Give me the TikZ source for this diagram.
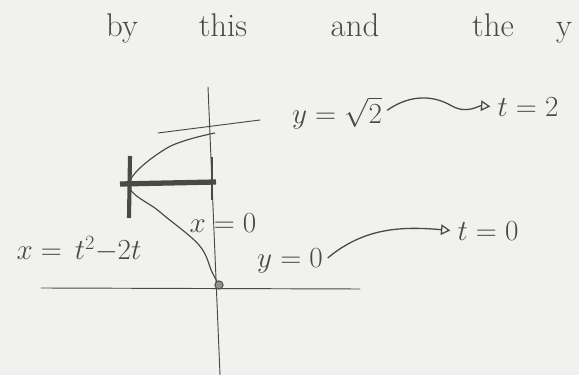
\documentclass[tikz,border=0pt]{standalone}
\usetikzlibrary{arrows.meta,decorations.pathmorphing}
\definecolor{pencil}{RGB}{72,74,72}
\definecolor{paper}{RGB}{241,241,240}
\begin{document}
\begin{tikzpicture}[x=0.03cm,y=-0.03cm]
	\tikzstyle{word}=[text=pencil,font=\fontsize{28}{32}\selectfont,anchor=base,inner sep=0pt]
	\tikzstyle{note}=[text=pencil,font=\fontsize{24}{28}\selectfont,inner sep=1pt]
	\tikzstyle{axis}=[draw=pencil,line width=0.8pt,line cap=round]
	\tikzstyle{leads}=[draw=pencil,line width=1.1pt,-{Triangle[open,length=8pt,width=9pt]},shorten <=4pt,shorten >=5pt]
	\fill[paper] (0,0) rectangle (579,375);
	\useasboundingbox (0,0) rectangle (579,375);
	\begin{scope}
		% heading line
		\node [word] (w1) at (122,37) {by};
		\node [word] (w2) at (223,37) {this};
		\node [word] (w3) at (355,37) {and};
		\node [word] (w4) at (493,37) {the};
		\node [word] (w5) at (564,37) {y};
		% axes
		\coordinate (o) at (219,285);
		\path[axis] (41,288) -- (360,289);
		\path[axis] (208,87) -- (220,375);
		\path[axis] (158,133) -- (260,120);
		% the curve and the strip
		\draw[pencil,line width=1pt] plot[smooth,tension=0.6] coordinates {(o) (212,272) (199,245) (160,212) (129,184) (167,148) (215,133)};
		\draw[pencil,line width=4.5pt] (120,184) -- (216,182);
		\draw[pencil,line width=3.5pt] (130,156) -- (129,218);
		\draw[pencil,line width=2pt] (212,157) -- (212,200);
		\draw[pencil,thick,fill=pencil!60] (o) circle[radius=3.5pt];
		% labels
		\node [note] (ysq) at (337,113) {$y=\sqrt{2}$};
		\node [note] (ttwo) at (528,107) {$t=2$};
		\node [note] (xeq) at (79,249) {$x=\,t^2{-}2t$};
		\node [note] (xzero) at (223,223) {$x=0$};
		\node [note] (yzero) at (290,261) {$y=0$};
		\node [note] (tzero) at (488,231) {$t=0$};
		\draw[leads] (ysq.east) to [out=35,in=150] ([xshift=-38pt,yshift=1pt]ttwo.west) to [out=-30,in=175] (ttwo.west);
		\draw[leads] (yzero.east) to [out=40,in=175] (tzero.west);
	\end{scope}
\end{tikzpicture}
\end{document}
